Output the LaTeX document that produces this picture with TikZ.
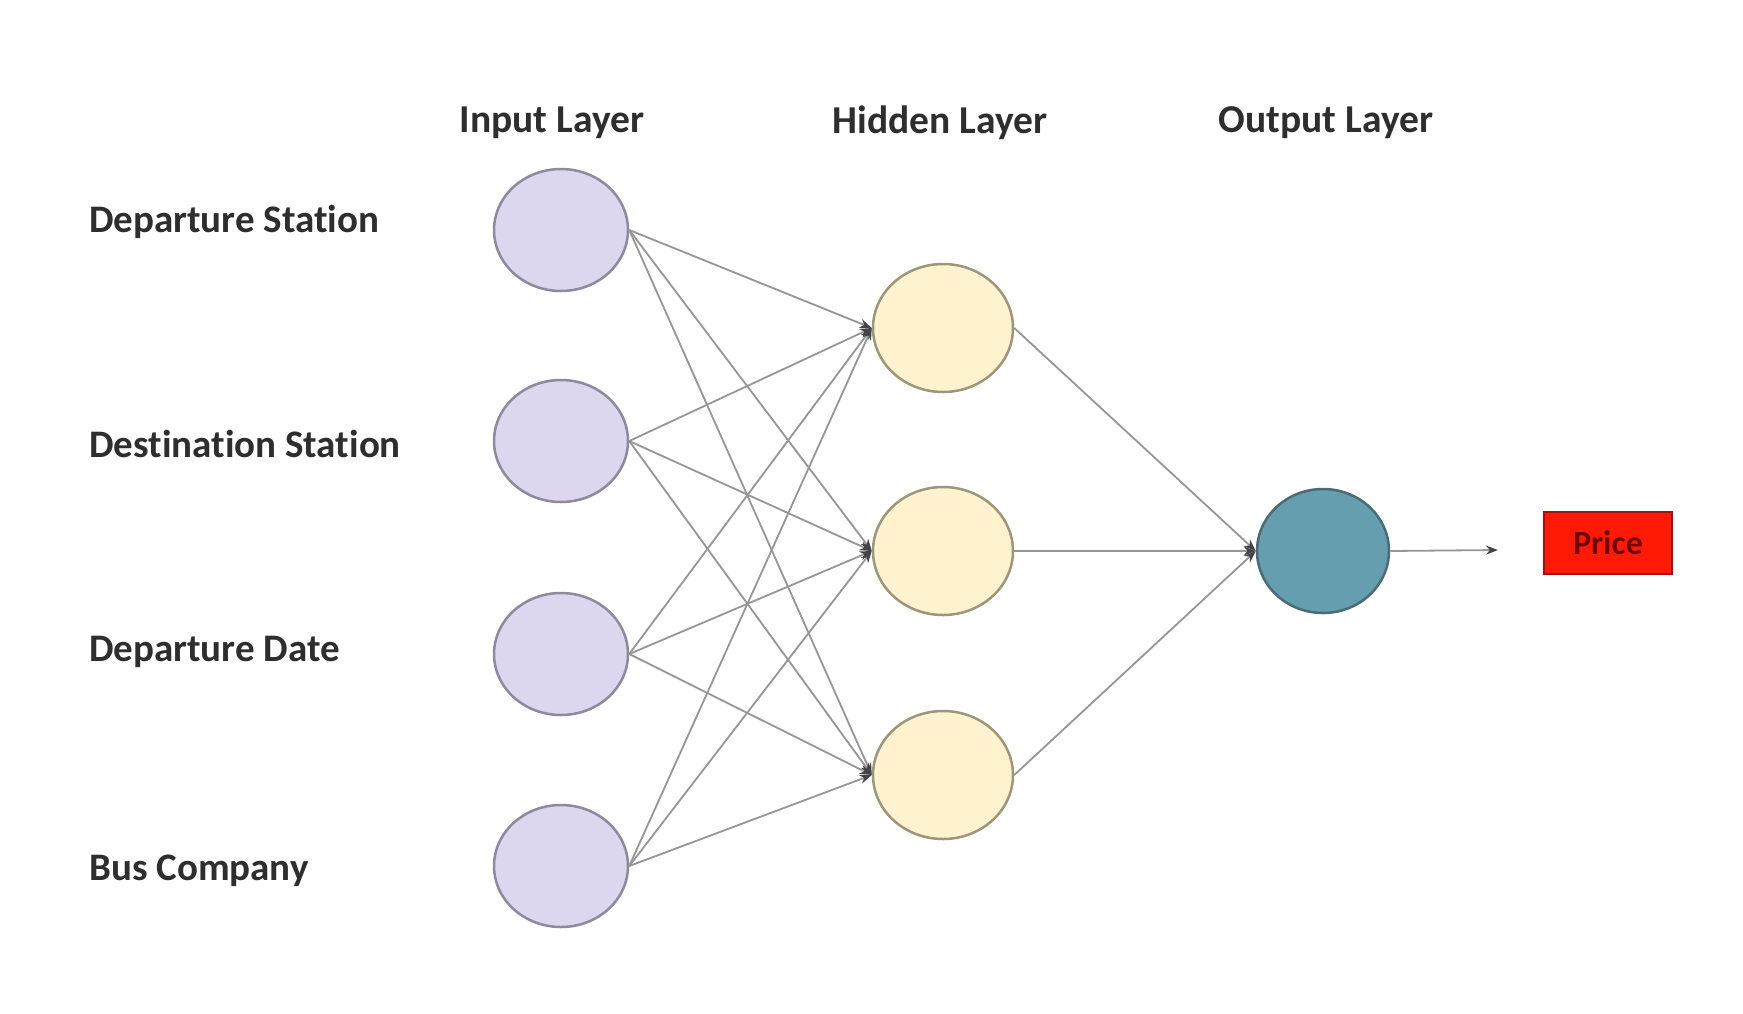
\documentclass[tikz,border=0pt]{standalone}
\usepackage{fontspec}
\setmainfont[RawFeature=-liga]{Carlito}
\usetikzlibrary{shapes.geometric,arrows.meta}
\definecolor{inFill}{HTML}{DCD6EE}
\definecolor{inDraw}{HTML}{8C8A9C}
\definecolor{hidFill}{HTML}{FFF2CE}
\definecolor{hidDraw}{HTML}{9C9778}
\definecolor{outFill}{HTML}{659EAF}
\definecolor{outDraw}{HTML}{4A6C76}
\definecolor{priceFill}{HTML}{FF1A05}
\definecolor{priceDraw}{HTML}{A51010}
\definecolor{priceText}{HTML}{6E0000}
\definecolor{edgeCol}{HTML}{969696}
\definecolor{tipCol}{HTML}{444444}
\definecolor{txt}{HTML}{2E2E2E}
\tikzset{
  inneuron/.style={ellipse, draw=inDraw, fill=inFill, line width=2.5pt, minimum width=134pt, minimum height=122pt, inner sep=0pt},
  hidneuron/.style={ellipse, draw=hidDraw, fill=hidFill, line width=2.5pt, minimum width=140pt, minimum height=128pt, inner sep=0pt},
  outneuron/.style={ellipse, draw=outDraw, fill=outFill, line width=2.5pt, minimum width=132pt, minimum height=124pt, inner sep=0pt},
  conn/.style={draw=edgeCol, line width=1.8pt, -{Stealth[length=12pt,width=9pt,color=tipCol]}},
  layerlabel/.style={font=\fontsize{39.5}{44}\selectfont\bfseries, text=txt, inner sep=0pt},
  featlabel/.style={font=\fontsize{39}{44}\selectfont\bfseries, text=txt, anchor=west, inner sep=0pt},
  pricebox/.style={draw=priceDraw, fill=priceFill, line width=2pt, minimum width=128pt, minimum height=62pt, inner sep=0pt, font=\fontsize{34}{38}\selectfont\bfseries, text=priceText}
}
\begin{document}
\begin{tikzpicture}[x=1pt,y=-1pt]
\useasboundingbox (0,0) rectangle (1743,1013);
\fill[white] (0,0) rectangle (1743,1013);

\node[layerlabel] (tin) at (552,123) {Input Layer};
\node[layerlabel] (thid) at (940,123) {Hidden Layer};
\node[layerlabel] (tout) at (1326,123) {Output Layer};

\node[featlabel] (f1) at (89,222) {Departure Station};
\node[featlabel] (f2) at (89,444) {Destination Station};
\node[featlabel] (f3) at (89,652) {Departure Date};
\node[featlabel] (f4) at (89,871) {Bus Company};

\node[inneuron] (i1) at (561,230) {};
\node[inneuron] (i2) at (561,441) {};
\node[inneuron] (i3) at (561,654) {};
\node[inneuron] (i4) at (561,866) {};

\node[hidneuron] (h1) at (943,328) {};
\node[hidneuron] (h2) at (943,551) {};
\node[hidneuron] (h3) at (943,775) {};

\node[outneuron] (o) at (1323,551) {};

\node[pricebox] (p) at (1608,543) {Price};
\coordinate (pend) at (1498,550);

\foreach \i in {1,2,3,4}{
  \foreach \h in {1,2,3}{
    \draw[conn] (i\i.east) -- (h\h.west);
  }
}
\foreach \h in {1,2,3}{
  \draw[conn] (h\h.east) -- (o.west);
}
\draw[conn] (o.east) -- (pend);
\end{tikzpicture}
\end{document}
